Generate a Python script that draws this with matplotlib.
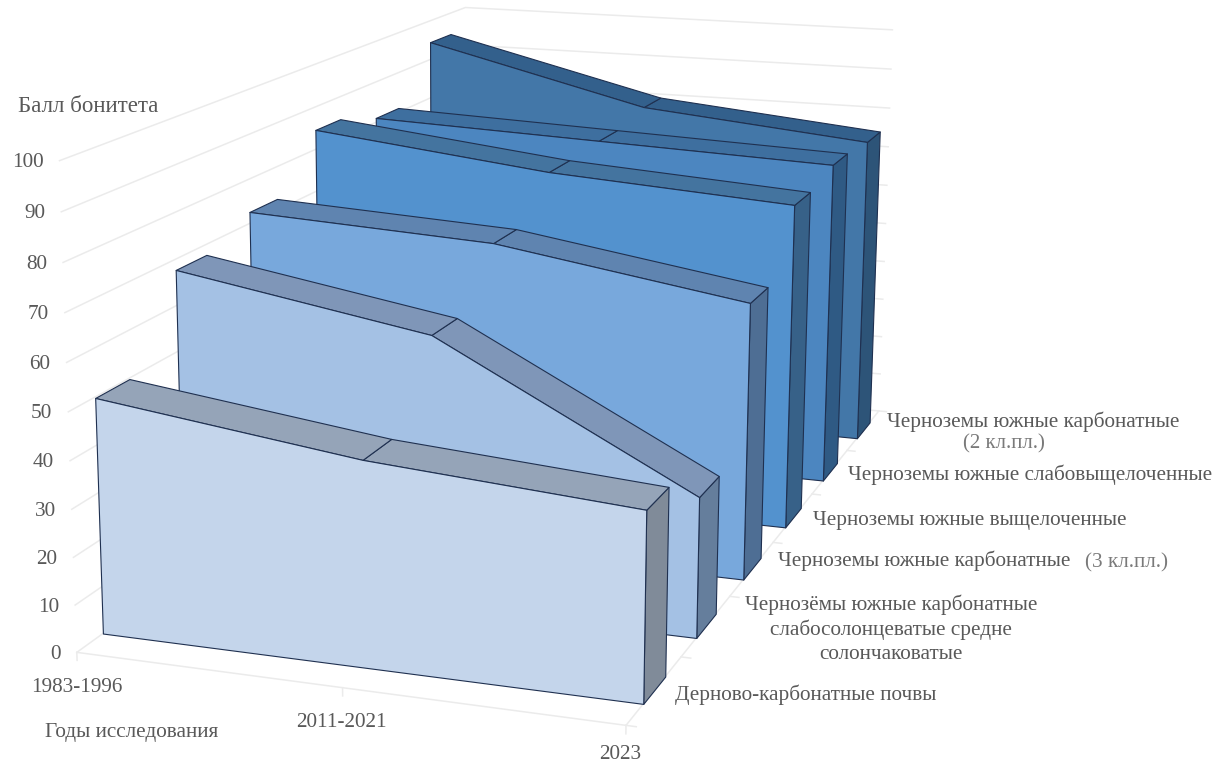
import matplotlib
matplotlib.use('Agg')
import matplotlib.pyplot as plt
from mpl_toolkits.mplot3d import proj3d
from mpl_toolkits.mplot3d.art3d import Poly3DCollection

W, H = 1227, 763

# Годы исследования и балл бонитета по почвам (спереди назад)
years = ['1983-1996', '2011-2021', '2023']
dernovo = [49.8, 42.8, 38.9]
chern_solonc = [67.7, 58.6, 30.0]
chern_karb3 = [72.6, 69.9, 61.4]
chern_vysh = [84.6, 78.5, 75.0]
chern_slabo = [81.1, 79.1, 77.1]
chern_karb2 = [94.5, 81.1, 75.9]
series = [dernovo, chern_solonc, chern_karb3, chern_vysh, chern_slabo, chern_karb2]
score_ticks = [0, 10, 20, 30, 40, 50, 60, 70, 80, 90, 100]

face = ['#C4D5EB', '#A4C1E4', '#78A8DC', '#5392CE', '#4C86C0', '#4377A8']
top = ['#95A4B8', '#7F96B8', '#5F84B0', '#44749F', '#3E6F9F', '#33608C']
side = ['#808B99', '#657E9C', '#4E6E94', '#376188', '#2F5A84', '#2D5478']
grid = '#EBEBEB'
txt = '#595959'

plt.rcParams['font.family'] = ['Liberation Serif', 'DejaVu Serif']
plt.rcParams['font.size'] = 15.3

fig = plt.figure(figsize=(W/100, H/100), dpi=100)
ax = fig.add_axes([-70.74/W, -144.63/H, 1173.6/W, 1173.6/H], projection='3d', computed_zorder=False)
ax.set_xlim(0, 2)
ax.set_ylim(0, 6)
ax.set_zlim(0, 100)
ax.view_init(13.853, -71.370, -0.302)
ax.set_proj_type('persp', focal_length=0.449)
ax.set_box_aspect((1, 1.981, 0.872))
ax.set_axis_off()

# стенки и пол
for v in score_ticks:
    ax.plot([0, 0, 2], [0, 6, 6], [v, v, v], color=grid, lw=1.1, zorder=1)
ax.plot([0, 2, 2], [0, 0, 6], [0, 0, 0], color=grid, lw=1.1, zorder=1)
for c in range(3):
    ax.plot([c, c], [0, 0], [0, -1.7], color=grid, lw=1.1, zorder=1)
for d in range(7):
    ax.plot([2, 2.035], [d, d], [0, 0], color=grid, lw=1.1, zorder=1)

# серии, от дальней к ближней
z = 10
for i in range(5, -1, -1):
    yf, yb = i + .3, i + .7
    v = series[i]
    polys = [
        ([(2, yf, v[2]), (2, yb, v[2]), (2, yb, 0), (2, yf, 0)], side[i]),
        ([(1, yf, v[1]), (2, yf, v[2]), (2, yb, v[2]), (1, yb, v[1])], top[i]),
        ([(0, yf, v[0]), (1, yf, v[1]), (1, yb, v[1]), (0, yb, v[0])], top[i]),
        ([(0, yf, v[0]), (1, yf, v[1]), (2, yf, v[2]), (2, yf, 0), (0, yf, 0)], face[i]),
    ]
    for p, col in polys:
        ax.add_collection3d(Poly3DCollection([p], facecolor=col, edgecolor='#1F3050', linewidth=.8, zorder=z))
        z += 1

# подписи осей
fig.canvas.draw()
M = ax.get_proj()
def anchor(x, y, v):
    u, w, _ = proj3d.proj_transform(x, y, v, M)
    return u, w

for v in score_ticks:
    ax.annotate(str(v), anchor(0, 0, v), xytext=(-16, -2), textcoords='offset pixels',
                ha='right', va='center', color=txt, annotation_clip=False)
for c, lab in enumerate(years):
    dx, dy = [(0, -35), (-1, -35), (-6, -29)][c]
    ax.annotate(lab, anchor(c, 0, 0), xytext=(dx, dy), textcoords='offset pixels',
                ha='center', va='center', color=txt, annotation_clip=False)

def label(x, y, s, ha='left', **kw):
    fig.text(x/W, 1 - y/H, s, ha=ha, va='center', color=kw.pop('color', txt), **kw)

label(18, 107, 'Балл бонитета', fontsize=16.5)
label(45, 732, 'Годы исследования')
label(675, 695, 'Дерново-карбонатные почвы')
label(891, 629, 'Чернозёмы южные карбонатные\nслабосолонцеватые средне\nсолончаковатые', ha='center', linespacing=1.31)
label(778, 561, 'Черноземы южные карбонатные')
label(1085, 563, '(3 кл.пл.)', fontsize=15.3, color='#7A7A7A')
label(813, 520, 'Черноземы южные выщелоченные')
label(848, 475, 'Черноземы южные слабовыщелоченные')
label(887, 422, 'Черноземы южные карбонатные')
label(963, 444, '(2 кл.пл.)', fontsize=15, color='#7A7A7A')

fig.savefig('out.png', dpi=100)
